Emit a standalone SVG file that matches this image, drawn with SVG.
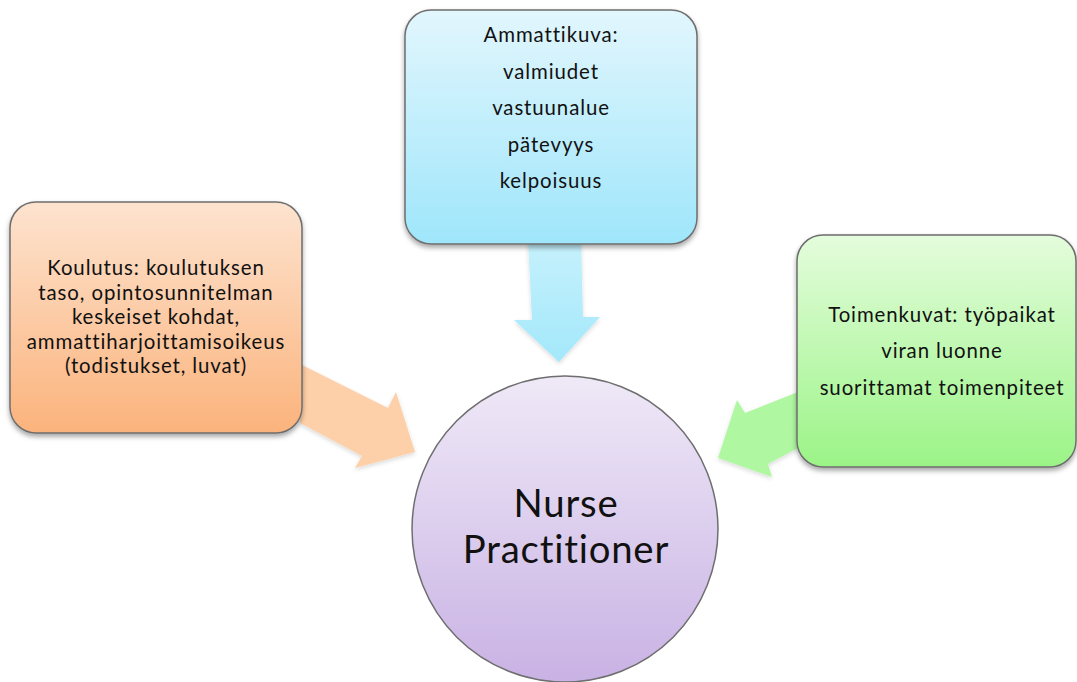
<svg xmlns="http://www.w3.org/2000/svg" width="1077" height="682" viewBox="0 0 1077 682">
<style>
.box{stroke:#6e6e6e;stroke-width:1.5}
.t{font-family:Lato,"Open Sans",sans-serif;font-size:20.4px;letter-spacing:0.9px;font-variant-ligatures:none;fill:#111;text-anchor:middle}
.big{font-family:Lato,"Open Sans",sans-serif;font-size:38.3px;letter-spacing:0.8px;font-variant-ligatures:none;fill:#111;text-anchor:middle}
</style>
<defs>
<linearGradient id="gBlue" x1="0" y1="0" x2="0" y2="1"><stop offset="0" stop-color="#e2f6fd"/><stop offset="1" stop-color="#9fe6fb"/></linearGradient>
<linearGradient id="gOrange" x1="0" y1="0" x2="0" y2="1"><stop offset="0" stop-color="#fde3cf"/><stop offset="1" stop-color="#fbb37c"/></linearGradient>
<linearGradient id="gGreen" x1="0" y1="0" x2="0" y2="1"><stop offset="0" stop-color="#e4fcdc"/><stop offset="1" stop-color="#9bf487"/></linearGradient>
<linearGradient id="gPurple" x1="0" y1="0" x2="0" y2="1"><stop offset="0" stop-color="#efe9f7"/><stop offset="1" stop-color="#c9b2e4"/></linearGradient>
<linearGradient id="aBlue" x1="0" y1="0" x2="0" y2="1"><stop offset="0" stop-color="#c6f1fc"/><stop offset="1" stop-color="#a3e8fb"/></linearGradient>
<filter id="sh" x="-10%" y="-10%" width="120%" height="125%"><feDropShadow dx="0" dy="3" stdDeviation="2.5" flood-color="#000" flood-opacity="0.35"/></filter>
<filter id="ash" x="-10%" y="-10%" width="120%" height="125%"><feDropShadow dx="0" dy="2" stdDeviation="2" flood-color="#000" flood-opacity="0.15"/></filter>
</defs>
<g id="connectors">
<polygon filter="url(#ash)" fill="url(#aBlue)" points="528,240 581,240 583,317 600,317 559,362 514,320 532,320"/>
<polygon filter="url(#ash)" fill="#fdd0a9" points="300,364 388,408 396,392 415,452 355,468 362,456 300,423"/>
<polygon filter="url(#ash)" fill="#b0f7a2" points="798,392 745,413 737,400 718,458 772,477 768,464 798,448"/>
</g>
<g id="node-ammattikuva">
<rect class="box" filter="url(#sh)" x="405" y="10" width="292" height="234" rx="26" fill="url(#gBlue)"/>
<text class="t" x="551" y="42">Ammattikuva:</text>
<text class="t" x="551" y="79">valmiudet</text>
<text class="t" x="551" y="115">vastuunalue</text>
<text class="t" x="551" y="152">pätevyys</text>
<text class="t" x="551" y="188">kelpoisuus</text>
</g>
<g id="node-koulutus">
<rect class="box" filter="url(#sh)" x="10" y="202" width="292" height="231" rx="26" fill="url(#gOrange)"/>
<text class="t" x="156" y="275">Koulutus: koulutuksen</text>
<text class="t" x="156" y="299.5">taso, opintosunnitelman</text>
<text class="t" x="156" y="324">keskeiset kohdat,</text>
<text class="t" x="156" y="348.5">ammattiharjoittamisoikeus</text>
<text class="t" x="156" y="373">(todistukset, luvat)</text>
</g>
<g id="node-toimenkuvat">
<rect class="box" filter="url(#sh)" x="797" y="235" width="279" height="232" rx="26" fill="url(#gGreen)"/>
<text class="t" x="942" y="322">Toimenkuvat: työpaikat</text>
<text class="t" x="942" y="358">viran luonne</text>
<text class="t" x="942" y="395">suorittamat toimenpiteet</text>
</g>
<g id="node-np">
<circle class="box" cx="565" cy="529" r="153" fill="url(#gPurple)"/>
<text class="big" x="566" y="517">Nurse</text>
<text class="big" x="566" y="563">Practitioner</text>
</g>
</svg>
